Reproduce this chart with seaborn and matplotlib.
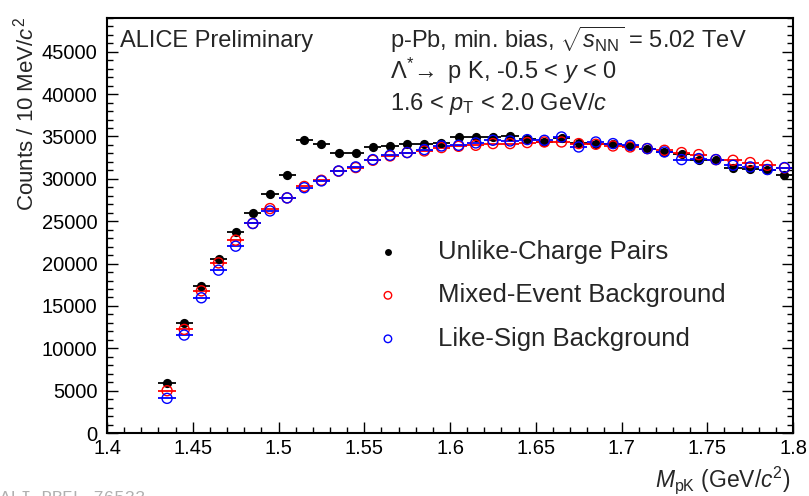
import numpy as np
import pandas as pd
import matplotlib.pyplot as plt
import seaborn as sns
from matplotlib.ticker import MultipleLocator

# Bin centres (GeV/c^2) and counts
mass = [1.435, 1.445, 1.455, 1.465, 1.475, 1.485, 1.495, 1.505, 1.515, 1.525,
        1.535, 1.545, 1.555, 1.565, 1.575, 1.585, 1.595, 1.605, 1.615, 1.625,
        1.635, 1.645, 1.655, 1.665, 1.675, 1.685, 1.695, 1.705, 1.715, 1.725,
        1.735, 1.745, 1.755, 1.765, 1.775, 1.785, 1.795]
unlike = [5900, 13000, 17400, 20500, 23700, 25950, 28250, 30450, 34550, 34100,
          33000, 33100, 33750, 33880, 34150, 34150, 34250, 34930, 34880, 34940,
          35000, 34750, 34400, 34870, 34250, 34150, 34150, 33850, 33570, 33170,
          32980, 32270, 32270, 31330, 31210, 31010, 30420]
mixed = [4990, 12230, 16780, 20080, 22760, 24730, 26490, 27750, 29100, 29830,
         30900, 31330, 32190, 32700, 33100, 33290, 33690, 33840, 33960, 34160,
         34160, 34280, 34350, 34350, 34160, 34080, 33880, 33760, 33570, 33370,
         33100, 32860, 32270, 32190, 31920, 31600, 31290]
likesign = [4090, 11560, 15960, 19220, 22050, 24730, 26210, 27750, 28950, 29750,
            30930, 31410, 32270, 32780, 33100, 33450, 33880, 33960, 34240, 34550,
            34470, 34630, 34550, 34940, 33760, 34350, 34160, 33960, 33570, 33170,
            32270, 32390, 32270, 31600, 31410, 31100, 31330]
half_bin = 0.005

df = pd.DataFrame({'mass': mass, 'unlike': unlike, 'mixed': mixed, 'like': likesign})

sns.set_theme(style='ticks')
plt.rcParams['font.family'] = ['Liberation Sans', 'DejaVu Sans']
plt.rcParams['mathtext.fontset'] = 'custom'
plt.rcParams['mathtext.rm'] = 'Liberation Sans'
plt.rcParams['mathtext.it'] = 'Liberation Sans:italic'
plt.rcParams['mathtext.bf'] = 'Liberation Sans:bold'

fig = plt.figure(figsize=(8.09, 4.96), dpi=100)
ax = fig.add_axes([0.1323, 0.127, 0.848, 0.837])

# horizontal bin-width bars
for col, c in [('unlike', 'black'), ('mixed', 'red'), ('like', 'blue')]:
    ax.errorbar(df['mass'], df[col], xerr=half_bin, fmt='none', ecolor=c,
                elinewidth=1.3, capsize=0)

sns.scatterplot(data=df, x='mass', y='unlike', ax=ax, color='black', s=44,
                linewidth=0, label='Unlike-Charge Pairs', zorder=3)
sns.scatterplot(data=df, x='mass', y='mixed', ax=ax, facecolors='none',
                edgecolor='red', s=52, linewidth=1.0,
                label='Mixed-Event Background', zorder=4)
sns.scatterplot(data=df, x='mass', y='like', ax=ax, facecolors='none',
                edgecolor='blue', s=52, linewidth=1.0,
                label='Like-Sign Background', zorder=4)

ax.set_xlim(1.4, 1.8)
ax.set_ylim(0, 49000)
ax.xaxis.set_major_locator(MultipleLocator(0.05))
ax.xaxis.set_minor_locator(MultipleLocator(0.01))
ax.yaxis.set_major_locator(MultipleLocator(5000))
ax.yaxis.set_minor_locator(MultipleLocator(1000))
ax.set_xticks([1.4, 1.45, 1.5, 1.55, 1.6, 1.65, 1.7, 1.75, 1.8])
ax.set_xticklabels(['1.4', '1.45', '1.5', '1.55', '1.6', '1.65', '1.7', '1.75', '1.8'])
ax.tick_params(which='both', direction='in', right=True, top=False,
               labelsize=14.5, colors='black', width=1.0)
ax.tick_params(which='major', length=8)
ax.tick_params(which='minor', length=4)
ax.tick_params(axis='x', pad=4)
ax.tick_params(axis='y', pad=7)
for s in ax.spines.values():
    s.set_linewidth(1.5)
    s.set_color('black')

ax.set_xlabel('')
ax.set_ylabel('')
fig.text(0.977, 0.032, r'$M_{\mathrm{pK}}$ (GeV/$c^{2}$)', ha='right', va='center', fontsize=16.5)
fig.text(0.031, 0.965, r'Counts / 10 MeV/$c^{2}$', rotation=90, ha='center', va='top', fontsize=16)

ax.text(0.019, 0.945, 'ALICE Preliminary', transform=ax.transAxes, fontsize=17,
        ha='left', va='center')
ax.text(0.412, 0.947, r'p-Pb, min. bias, $\sqrt{s_{\mathrm{NN}}}$ = 5.02 TeV',
        transform=ax.transAxes, fontsize=17, ha='left', va='center')
ax.text(0.412, 0.873, r'$\Lambda^{*}\!\rightarrow$ p K, -0.5 < $y$ < 0',
        transform=ax.transAxes, fontsize=17, ha='left', va='center')
ax.text(0.412, 0.793, r'1.6 < $p_{\mathrm{T}}$ < 2.0 GeV/$c$',
        transform=ax.transAxes, fontsize=17, ha='left', va='center')

handles, labels = ax.get_legend_handles_labels()
ax.legend(handles, labels, loc='upper left', bbox_to_anchor=(0.372, 0.497),
          frameon=False, fontsize=18.5, borderpad=0, handlelength=1.0,
          handletextpad=1.45, labelspacing=0.76, markerscale=0.75)

fig.text(0.0, 0.012, 'ALI-PREL-76522', fontsize=12.5, family='Liberation Mono',
         color='#b0b0b0', ha='left', va='top')

fig.savefig('out.png', dpi=100)
